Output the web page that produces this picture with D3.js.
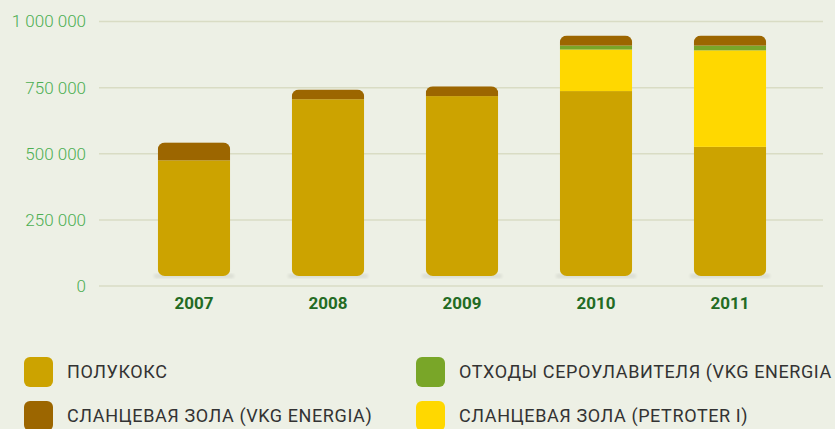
<!DOCTYPE html>
<html>
<head>
<meta charset="utf-8">
<script src="https://cdn.jsdelivr.net/npm/d3@7"></script>
<style>
  html, body { margin: 0; padding: 0; background: #edf0e5; }
  svg { display: block; font-family: Roboto, "Noto Sans", sans-serif; }
</style>
</head>
<body>
<div id="chart"></div>
<script>
const years = ["2007", "2008", "2009", "2010", "2011"];
const semicoke = [475000, 706000, 718000, 737000, 526000];
const petroterAsh = [0, 0, 0, 157000, 365000];
const desulfWaste = [0, 0, 0, 15000, 18000];
const vkgAsh = [68000, 37000, 37000, 38000, 38000];
const yTicks = [0, 250000, 500000, 750000, 1000000];

const seriesNames = ["ПОЛУКОКС", "СЛАНЦЕВАЯ ЗОЛА (PETROTER I)", "ОТХОДЫ СЕРОУЛАВИТЕЛЯ (VKG ENERGIA", "СЛАНЦЕВАЯ ЗОЛА (VKG ENERGIA)"];
const colors = ["#cca300", "#ffd800", "#79a628", "#9c6600"];

const width = 835, height = 429;

const svg = d3.select("#chart").append("svg")
  .attr("width", width)
  .attr("height", height);

const x = d3.scaleBand()
  .domain(years)
  .range([127, 797])
  .paddingInner(0.46)
  .paddingOuter(0.23);

const y = d3.scaleLinear()
  .domain([0, 1000000])
  .range([286, 21.5]);

// grid lines
svg.append("g")
  .selectAll("line")
  .data(yTicks)
  .enter()
  .append("line")
  .attr("x1", 99)
  .attr("x2", 823)
  .attr("y1", (d) => y(d))
  .attr("y2", (d) => y(d))
  .attr("stroke", "#d9dcc4")
  .attr("stroke-width", 1.5);

// y labels
const fmt = (v) => d3.format(",")(v).replace(/,/g, " ");
svg.append("g")
  .selectAll("text")
  .data(yTicks)
  .enter()
  .append("text")
  .attr("x", 86)
  .attr("y", (d) => y(d))
  .attr("dy", "0.35em")
  .attr("text-anchor", "end")
  .attr("font-size", 17)
  .attr("font-weight", 300)
  .attr("fill", "#4cae52")
  .text(fmt);

// stack data
const rows = years.map((yr, i) => ({
  year: yr,
  s0: semicoke[i],
  s1: petroterAsh[i],
  s2: desulfWaste[i],
  s3: vkgAsh[i]
}));
const stack = d3.stack().keys(["s0", "s1", "s2", "s3"])(rows);

const defs = svg.append("defs");
defs.append("filter")
  .attr("id", "blur")
  .append("feGaussianBlur")
  .attr("stdDeviation", 1.5);

const gap = 10;
const bw = x.bandwidth();

// clip each bar to a rounded shape
rows.forEach((r, i) => {
  const top = y(r.s0 + r.s1 + r.s2 + r.s3);
  const bottom = y(0) - gap;
  defs.append("clipPath")
    .attr("id", "clip-" + i)
    .append("rect")
    .attr("x", x(r.year))
    .attr("y", top)
    .attr("width", bw)
    .attr("height", bottom - top)
    .attr("rx", 7);
});

// shadows
svg.append("g")
  .selectAll("rect")
  .data(rows)
  .enter()
  .append("rect")
  .attr("x", (d) => x(d.year) - 4)
  .attr("y", y(0) - gap - 2)
  .attr("width", bw + 8)
  .attr("height", 4)
  .attr("rx", 2)
  .attr("fill", "#000")
  .attr("opacity", 0.08)
  .attr("filter", "url(#blur)");

const barG = svg.append("g");
stack.forEach((layer, k) => {
  barG.append("g")
    .attr("fill", colors[k])
    .selectAll("rect")
    .data(layer)
    .enter()
    .append("rect")
    .attr("clip-path", (d, i) => `url(#clip-${i})`)
    .attr("x", (d) => x(d.data.year))
    .attr("width", bw)
    .attr("y", (d) => y(d[1]))
    .attr("height", (d) => {
      const lo = k === 0 ? y(0) - gap : y(d[0]);
      return Math.max(0, lo - y(d[1]));
    });
});

// year labels
svg.append("g")
  .selectAll("text")
  .data(years)
  .enter()
  .append("text")
  .attr("x", (d) => x(d) + bw / 2)
  .attr("y", 303.5)
  .attr("dy", "0.35em")
  .attr("text-anchor", "middle")
  .attr("font-size", 17)
  .attr("font-weight", 700)
  .attr("fill", "#236b23")
  .text((d) => d);

// legend
const legendItems = [
  { name: seriesNames[0], color: colors[0], x: 24, y: 372 },
  { name: seriesNames[2], color: colors[2], x: 416, y: 372 },
  { name: seriesNames[3], color: colors[3], x: 24, y: 416 },
  { name: seriesNames[1], color: colors[1], x: 416, y: 416 }
];
const lg = svg.append("g")
  .selectAll("g")
  .data(legendItems)
  .enter()
  .append("g")
  .attr("transform", (d) => `translate(${d.x},${d.y})`);
lg.append("rect")
  .attr("x", 0)
  .attr("y", -15)
  .attr("width", 29)
  .attr("height", 30)
  .attr("rx", 6)
  .attr("fill", (d) => d.color);
lg.append("text")
  .attr("x", 43)
  .attr("y", 0)
  .attr("dy", "0.35em")
  .attr("font-size", 18)
  .attr("letter-spacing", 0.6)
  .attr("fill", "#333")
  .text((d) => d.name);
</script>
</body>
</html>
